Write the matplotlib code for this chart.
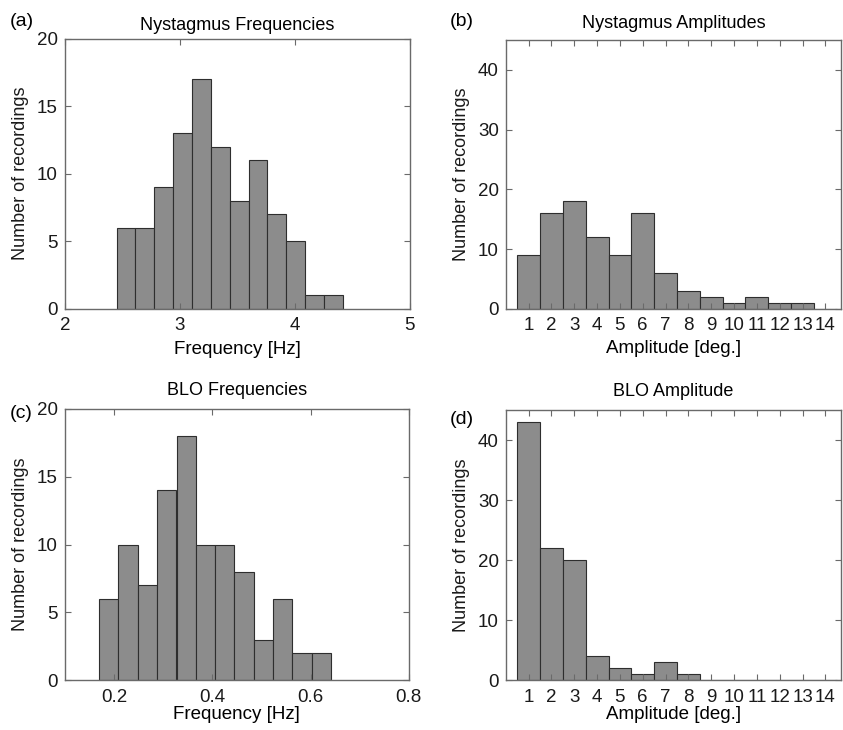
import numpy as np
import matplotlib
matplotlib.use("Agg")
import matplotlib.pyplot as plt

plt.rcParams["font.family"] = ["Liberation Sans", "DejaVu Sans"]

# (a) Nystagmus frequencies: bin centres [Hz] and counts
nys_freq_centres = [2.532, 2.696, 2.860, 3.024, 3.188, 3.352,
                    3.516, 3.680, 3.844, 4.008, 4.172, 4.336]
nys_freq_counts = [6, 6, 9, 13, 17, 12, 8, 11, 7, 5, 1, 1]
nys_freq_width = 0.164

# (b) Nystagmus amplitudes
amp_bins = [1, 2, 3, 4, 5, 6, 7, 8, 9, 10, 11, 12, 13, 14]
nys_amp_counts = [9, 16, 18, 12, 9, 16, 6, 3, 2, 1, 2, 1, 1, 0]

# (c) BLO frequencies
blo_freq_centres = [0.1894, 0.2287, 0.2681, 0.3074, 0.3468, 0.3861,
                    0.4254, 0.4648, 0.5041, 0.5435, 0.5828, 0.6222]
blo_freq_counts = [6, 10, 7, 14, 18, 10, 10, 8, 3, 6, 2, 2]
blo_freq_width = 0.0393

# (d) BLO amplitudes
blo_amp_counts = [43, 22, 20, 4, 2, 1, 3, 1, 0, 0, 0, 0, 0, 0]

BAR = "#8c8c8c"
EDGE = "#2e2e2e"
SPINE = "#6a6a6a"
FS = 13.5

fig = plt.figure(figsize=(8.43, 7.30), dpi=100)
ax_a = fig.add_axes([0.077, 0.577, 0.409, 0.370])
ax_b = fig.add_axes([0.600, 0.577, 0.398, 0.368])
ax_c = fig.add_axes([0.077, 0.068, 0.408, 0.372])
ax_d = fig.add_axes([0.600, 0.068, 0.398, 0.370])


def style(ax):
    for s in ax.spines.values():
        s.set_color(SPINE)
        s.set_linewidth(1.0)
    ax.tick_params(direction="in", top=True, right=True, length=4,
                   width=0.8, color=SPINE, labelsize=FS, labelcolor="#1a1a1a")
    ax.tick_params(axis="x", pad=6)
    ax.tick_params(axis="y", pad=5)
    ax.set_ylabel("Number of recordings", fontsize=13, color="#1a1a1a",
                  labelpad=6)


ax_a.bar(nys_freq_centres, nys_freq_counts, width=nys_freq_width,
         color=BAR, edgecolor=EDGE, linewidth=0.8)
ax_a.set_xlim(2, 5)
ax_a.set_ylim(0, 20)
ax_a.set_xticks([2, 3, 4, 5])
ax_a.set_yticks([0, 5, 10, 15, 20])
ax_a.set_xlabel("Frequency [Hz]", fontsize=FS, labelpad=5)
ax_a.set_title("Nystagmus Frequencies", fontsize=13, pad=6)
style(ax_a)

ax_b.bar(amp_bins, nys_amp_counts, width=1.0,
         color=BAR, edgecolor=EDGE, linewidth=0.8)
ax_b.set_xlim(0, 14.7)
ax_b.set_ylim(0, 45)
ax_b.set_xticks(amp_bins)
ax_b.set_yticks([0, 10, 20, 30, 40])
ax_b.set_xlabel("Amplitude [deg.]", fontsize=FS, labelpad=4)
ax_b.set_title("Nystagmus Amplitudes", fontsize=13, pad=9)
style(ax_b)

ax_c.bar(blo_freq_centres, blo_freq_counts, width=blo_freq_width,
         color=BAR, edgecolor=EDGE, linewidth=0.8)
ax_c.set_xlim(0.1, 0.8)
ax_c.set_ylim(0, 20)
ax_c.set_xticks([0.2, 0.4, 0.6, 0.8])
ax_c.set_xticklabels(["0.2", "0.4", "0.6", "0.8"])
ax_c.set_yticks([0, 5, 10, 15, 20])
ax_c.set_xlabel("Frequency [Hz]", fontsize=FS, labelpad=0)
ax_c.set_title("BLO Frequencies", fontsize=13, pad=10)
style(ax_c)

ax_d.bar(amp_bins, blo_amp_counts, width=1.0,
         color=BAR, edgecolor=EDGE, linewidth=0.8)
ax_d.set_xlim(0, 14.7)
ax_d.set_ylim(0, 45)
ax_d.set_xticks(amp_bins)
ax_d.set_yticks([0, 10, 20, 30, 40])
ax_d.set_xlabel("Amplitude [deg.]", fontsize=FS, labelpad=0)
ax_d.set_title("BLO Amplitude", fontsize=13, pad=10)
style(ax_d)

# panel letters
fig.text(0.012, 0.970, "(a)", fontsize=14, va="center")
fig.text(0.533, 0.970, "(b)", fontsize=14, va="center")
fig.text(0.012, 0.434, "(c)", fontsize=14, va="center")
fig.text(0.533, 0.426, "(d)", fontsize=14, va="center")

fig.savefig("out.png", dpi=100)
